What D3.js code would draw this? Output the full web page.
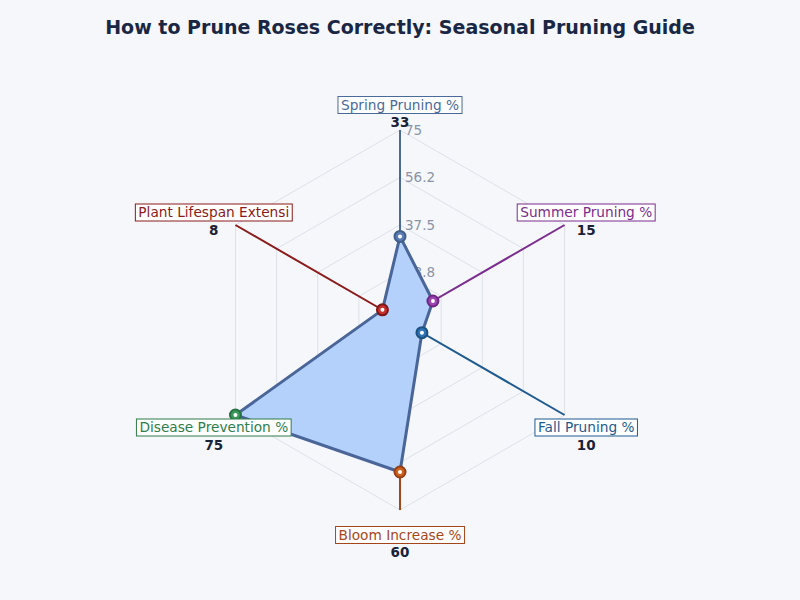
<!DOCTYPE html>
<html><head><meta charset="utf-8">
<script src="https://cdn.jsdelivr.net/npm/d3@7"></script>
<style>html,body{margin:0;padding:0;background:#f5f7fb;}svg{display:block;font-family:"DejaVu Sans",sans-serif;}</style>
</head><body>
<svg id="c" width="800" height="600"></svg>
<script>
const categories = ["Spring Pruning %","Summer Pruning %","Fall Pruning %","Bloom Increase %","Disease Prevention %","Plant Lifespan Extensi"];
const values = [33, 15, 10, 60, 75, 8];
const axisColors = ["#4a6a9a","#7b2d8e","#1f5a8f","#a5461a","#2e7d4a","#8b1a1a"];
const markerFills = ["#5a7db5","#9b45b5","#2e73b5","#d0601e","#3a9a5c","#c8302e"];
const tickValues = [18.75, 37.5, 56.25, 75];
const tickLabels = ["18.8","37.5","56.2","75"];
const maxValue = 75;

const svg = d3.select("#c");
const cx = 400, cy = 320, R = 190;
const n = categories.length;
const r = d3.scaleLinear().domain([0, maxValue]).range([0, R]);
const ang = i => -Math.PI/2 + i * 2*Math.PI/n;
const pt = (i, v) => [cx + r(v)*Math.cos(ang(i)), cy + r(v)*Math.sin(ang(i))];

svg.append("text").attr("x", 400).attr("y", 34).attr("text-anchor","middle")
  .attr("font-size", 19).attr("font-weight","bold").attr("fill","#1a2744")
  .text("How to Prune Roses Correctly: Seasonal Pruning Guide");

// grid rings
const g = svg.append("g");
tickValues.forEach(t => {
  const pts = d3.range(n).map(i => pt(i, t));
  g.append("polygon").attr("points", pts.map(p => p.join(",")).join(" "))
    .attr("fill","none").attr("stroke","#dde1e8").attr("stroke-width",1);
});
// tick labels
tickValues.forEach((t, k) => {
  g.append("text").attr("x", cx + 5).attr("y", cy - r(t)).attr("dy","0.35em")
    .attr("font-size", 13.5).attr("fill","#8a94a6").text(tickLabels[k]);
});
// axes
categories.forEach((c, i) => {
  const p = pt(i, maxValue);
  g.append("line").attr("x1", cx).attr("y1", cy).attr("x2", p[0]).attr("y2", p[1])
    .attr("stroke", axisColors[i]).attr("stroke-width", 2);
});
// area
const line = d3.lineRadial().angle((d,i) => i*2*Math.PI/n).radius(d => r(d)).curve(d3.curveLinearClosed);
svg.append("path").attr("transform", `translate(${cx},${cy})`).attr("d", line(values))
  .attr("fill","#b3d1fb").attr("stroke","#4a6597").attr("stroke-width",3).attr("stroke-linejoin","round");
// markers
values.forEach((v, i) => {
  const p = pt(i, v);
  svg.append("circle").attr("cx", p[0]).attr("cy", p[1]).attr("r", 5.5)
    .attr("fill", markerFills[i]).attr("stroke", d3.color(axisColors[i]).darker(0.3)).attr("stroke-width", 2);
  svg.append("circle").attr("cx", p[0]).attr("cy", p[1]).attr("r", 2).attr("fill","#ffffff");
});
// labels
categories.forEach((c, i) => {
  const lr = 215;
  const x = cx + lr*Math.cos(ang(i)), y = cy + lr*Math.sin(ang(i));
  const lg = svg.append("g");
  const t = lg.append("text").attr("x", x).attr("y", y).attr("dy","0.35em").attr("text-anchor","middle")
    .attr("font-size", 13.7).attr("fill", axisColors[i]).text(c);
  const bb = t.node().getBBox();
  lg.insert("rect","text").attr("x", bb.x - 3).attr("y", y - 8.5).attr("width", bb.width + 6).attr("height", 17)
    .attr("fill","#ffffff").attr("stroke", axisColors[i]).attr("stroke-width", 1);
  svg.append("text").attr("x", x).attr("y", y + 17.5).attr("dy","0.35em").attr("text-anchor","middle")
    .attr("font-size", 13.5).attr("font-weight","bold").attr("fill","#1a2238").text(values[i]);
});
</script>
</body></html>
